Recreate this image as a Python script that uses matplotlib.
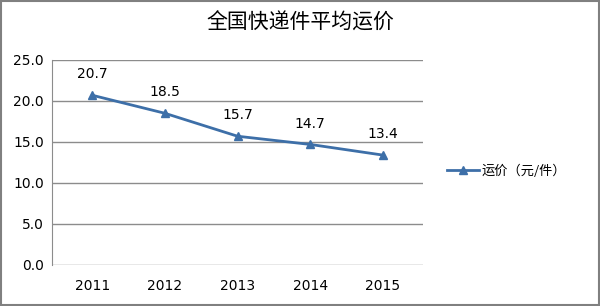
import matplotlib
matplotlib.use("Agg")
import matplotlib.pyplot as plt
from matplotlib.patches import Rectangle

plt.rcParams['font.family'] = ['Noto Sans CJK SC', 'DejaVu Sans']

# data
years = ["2011", "2012", "2013", "2014", "2015"]
prices = [20.7, 18.5, 15.7, 14.7, 13.4]
y_ticks = [0, 5, 10, 15, 20, 25]

line_color = "#3d6fa8"

fig = plt.figure(figsize=(6, 3.06), dpi=100)
ax = fig.add_axes([0.087, 0.134, 0.618, 0.670])

x = list(range(len(years)))
ax.plot(x, prices, color=line_color, lw=2, marker="^", markersize=6,
        label="运价（元/件）")

for xi, v in zip(x, prices):
    ax.annotate(f"{v:.1f}", (xi, v), xytext=(0, 10), textcoords="offset points",
                ha="center", va="bottom", fontsize=10, family="DejaVu Sans")

ax.set_xlim(-0.55, 4.55)
ax.set_ylim(0, 25)
ax.set_xticks(x)
ax.set_xticklabels(years, fontsize=10, family="DejaVu Sans")
ax.set_yticks(y_ticks)
ax.set_yticklabels([f"{t:.1f}" for t in y_ticks], fontsize=10, family="DejaVu Sans")
ax.grid(axis="y", color="#8c8c8c", lw=1)
ax.set_axisbelow(True)
ax.tick_params(axis="y", length=0, pad=6)
ax.tick_params(axis="x", length=0, pad=10)
for s in ["top", "right", "bottom"]:
    ax.spines[s].set_visible(False)
ax.spines["left"].set_color("#8c8c8c")

fig.text(0.5, 0.925, "全国快递件平均运价", ha="center", va="center",
         fontsize=15, fontweight="medium")

fig.legend(loc="center left", bbox_to_anchor=(0.725, 0.44), frameon=False,
           fontsize=9.5, handlelength=2.4, handletextpad=0.2)

# outer frame
fig.patches.append(Rectangle((0.002, 0.003), 0.996, 0.994, transform=fig.transFigure,
                             fill=False, edgecolor="#808080", lw=1.5))

fig.savefig("out.png", dpi=100)
